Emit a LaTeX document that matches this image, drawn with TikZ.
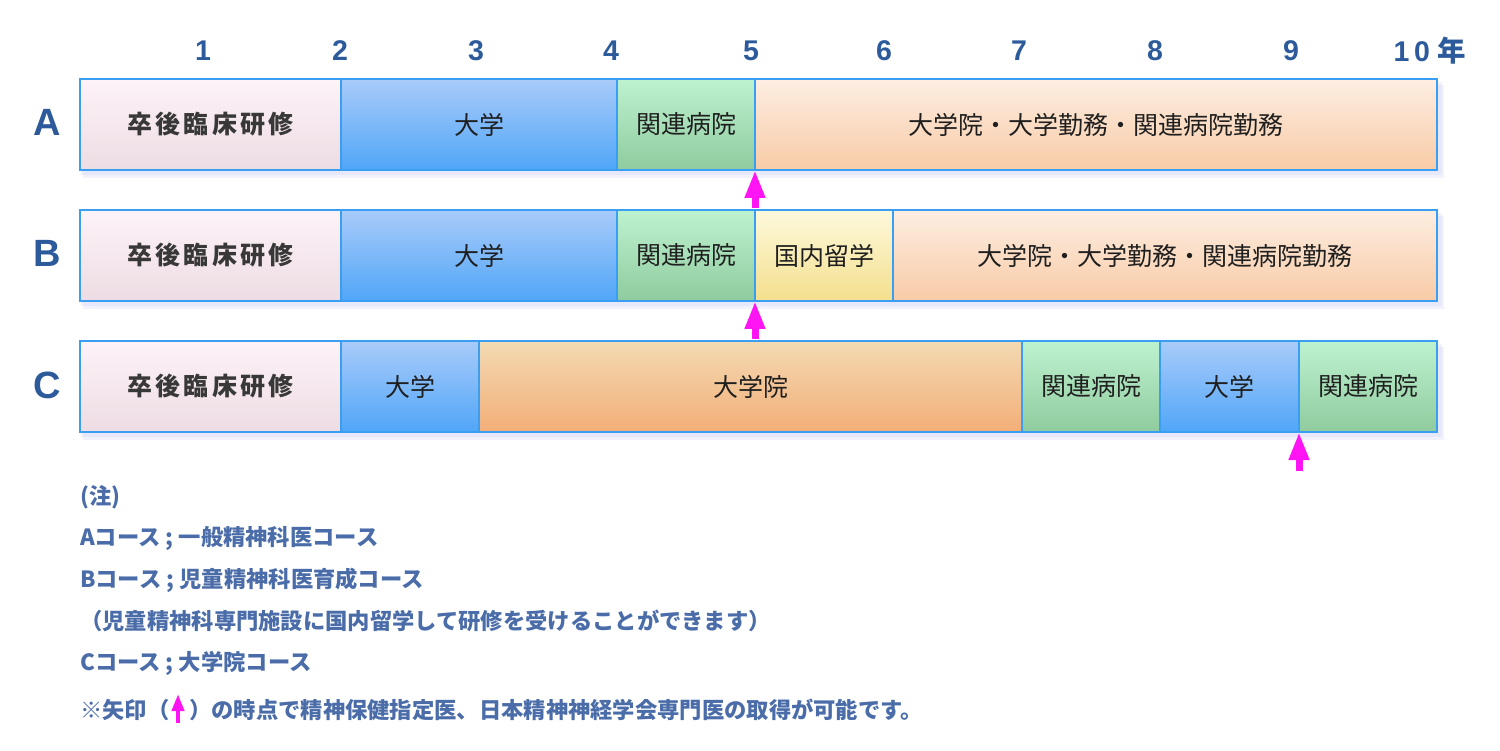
\documentclass[tikz,border=0pt]{standalone}
\usepackage{fontspec}
\usepackage{tikz}
\usepackage{xcolor}
\usetikzlibrary{positioning,arrows.meta}
\setmainfont{Noto Sans CJK JP}
\newfontfamily\jpfont{Noto Sans CJK JP}
\newfontfamily\numfont{Liberation Sans}
\definecolor{segline}{HTML}{3A9FF2}
\definecolor{pinkT}{HTML}{FDF3F8}
\definecolor{pinkB}{HTML}{EDDCE3}
\definecolor{blueT}{HTML}{A9CBF9}
\definecolor{blueB}{HTML}{50A6F8}
\definecolor{greenT}{HTML}{BEF2D0}
\definecolor{greenB}{HTML}{8FCB9E}
\definecolor{orangeT}{HTML}{FDEEE2}
\definecolor{orangeB}{HTML}{F8CBA6}
\definecolor{gradT}{HTML}{F3DAB2}
\definecolor{gradB}{HTML}{F3AE78}
\definecolor{yellowT}{HTML}{FEF9DD}
\definecolor{yellowB}{HTML}{F4DF8C}
\definecolor{numblue}{HTML}{2C5A9B}
\definecolor{noteblue}{HTML}{4A6CA8}
\definecolor{shadowc}{HTML}{9898F0}
\definecolor{markc}{HTML}{FF14F4}

\begin{document}
\begin{tikzpicture}[x=1pt,y=-1pt,
      seg/.style={draw=segline,line width=1.6pt,anchor=north west,inner sep=0pt,outer sep=0pt,
        minimum height=91pt,align=center,text=black!88,font=\fontsize{25}{28}\selectfont},
      pinkbox/.style={top color=pinkT,bottom color=pinkB,text=black!78,
        font=\fontsize{25}{28}\selectfont\bfseries\addfontfeature{LetterSpace=13}},
      univ/.style={top color=blueT,bottom color=blueB},
      hosp/.style={top color=greenT,bottom color=greenB},
      work/.style={top color=orangeT,bottom color=orangeB},
      grad/.style={top color=gradT,bottom color=gradB},
      domestic/.style={top color=yellowT,bottom color=yellowB},
      yearlbl/.style={text=numblue,font=\numfont\bfseries\fontsize{28.5}{30}\selectfont},
      rowlbl/.style={text=numblue,font=\numfont\bfseries\fontsize{38}{40}\selectfont},
      note/.style={anchor=west,inner sep=0pt,text=noteblue,font=\bfseries\fontsize{22.3}{25}\selectfont},
      rowshadow/.style={fill=shadowc,opacity=0.12},
      markarrow/.style={draw=markc,line width=7pt,-{Triangle[length=28pt,width=19pt]}},
      notearrow/.style={draw=markc,line width=4pt,-{Triangle[length=17pt,width=12pt]}}]
    \useasboundingbox (0,0) rectangle (1500,751);
    % years
    \node[yearlbl] (y1) at (203,51) {1};
    \node[yearlbl] (y2) at (340,51) {2};
    \node[yearlbl] (y3) at (476,51) {3};
    \node[yearlbl] (y4) at (611,51) {4};
    \node[yearlbl] (y5) at (751,51) {5};
    \node[yearlbl] (y6) at (884,51) {6};
    \node[yearlbl] (y7) at (1019,51) {7};
    \node[yearlbl] (y8) at (1155,51) {8};
    \node[yearlbl] (y9) at (1291,51) {9};
    \node[yearlbl] (y10) at (1430,51) {1\,0 {\jpfont 年}};
    % course letters
    \node[rowlbl] (la) at (47,122) {A};
    \node[rowlbl] (lb) at (47,253) {B};
    \node[rowlbl] (lc) at (47,385) {C};
    % shadows under the bars
    \fill[rowshadow] (81,82) rectangle (1442,175);
    \fill[rowshadow] (83,85) rectangle (1444,178);
    \fill[rowshadow] (81,213) rectangle (1442,306);
    \fill[rowshadow] (83,216) rectangle (1444,309);
    \fill[rowshadow] (81,344) rectangle (1442,437);
    \fill[rowshadow] (83,347) rectangle (1444,440);
    % course A
    \node[seg,pinkbox,minimum width=261pt] (a1) at (80,79) {卒後臨床研修};
    \node[seg,univ,minimum width=276pt] (a2) at (341,79) {大学};
    \node[seg,hosp,minimum width=138pt] (a3) at (617,79) {関連病院};
    \node[seg,work,minimum width=682pt] (a4) at (755,79) {大学院・大学勤務・関連病院勤務};
    % course B
    \node[seg,pinkbox,minimum width=261pt] (b1) at (80,210) {卒後臨床研修};
    \node[seg,univ,minimum width=276pt] (b2) at (341,210) {大学};
    \node[seg,hosp,minimum width=138pt] (b3) at (617,210) {関連病院};
    \node[seg,domestic,minimum width=138pt] (b4) at (755,210) {国内留学};
    \node[seg,work,minimum width=544pt] (b5) at (893,210) {大学院・大学勤務・関連病院勤務};
    % course C
    \node[seg,pinkbox,minimum width=261pt] (c1) at (80,341) {卒後臨床研修};
    \node[seg,univ,minimum width=138pt] (c2) at (341,341) {大学};
    \node[seg,grad,minimum width=543pt] (c3) at (479,341) {大学院};
    \node[seg,hosp,minimum width=138pt] (c4) at (1022,341) {関連病院};
    \node[seg,univ,minimum width=139pt] (c5) at (1160,341) {大学};
    \node[seg,hosp,minimum width=138pt] (c6) at (1299,341) {関連病院};
    % qualification arrows
    \coordinate (qa) at (755,208);
    \coordinate (qb) at (755,339);
    \coordinate (qc) at (1299,471);
    \draw[markarrow] (qa) -- (a3.south east);
    \draw[markarrow] (qb) -- (b3.south east);
    \draw[markarrow] (qc) -- (c5.south east);
    % notes
    \node[note] (n1) at (80,497) {(注)};
    \node[note] (n2) at (80,538) {Aコース ; 一般精神科医コース};
    \node[note] (n3) at (80,580) {Bコース ; 児童精神科医育成コース};
    \node[note] (n4) at (80,621) {（児童精神科専門施設に国内留学して研修を受けることができます）};
    \node[note] (n5) at (80,663) {Cコース ; 大学院コース};
    \node[note] (n6a) at (80,710) {※矢印（};
    \node[note] (n6b) at (189,710) {）の時点で精神保健指定医、日本精神神経学会専門医の取得が可能です。};
    \coordinate (n6s) at (178,723);
    \coordinate (n6t) at (178,694);
    \draw[notearrow] (n6s) -- (n6t);
  \end{tikzpicture}
\end{document}
